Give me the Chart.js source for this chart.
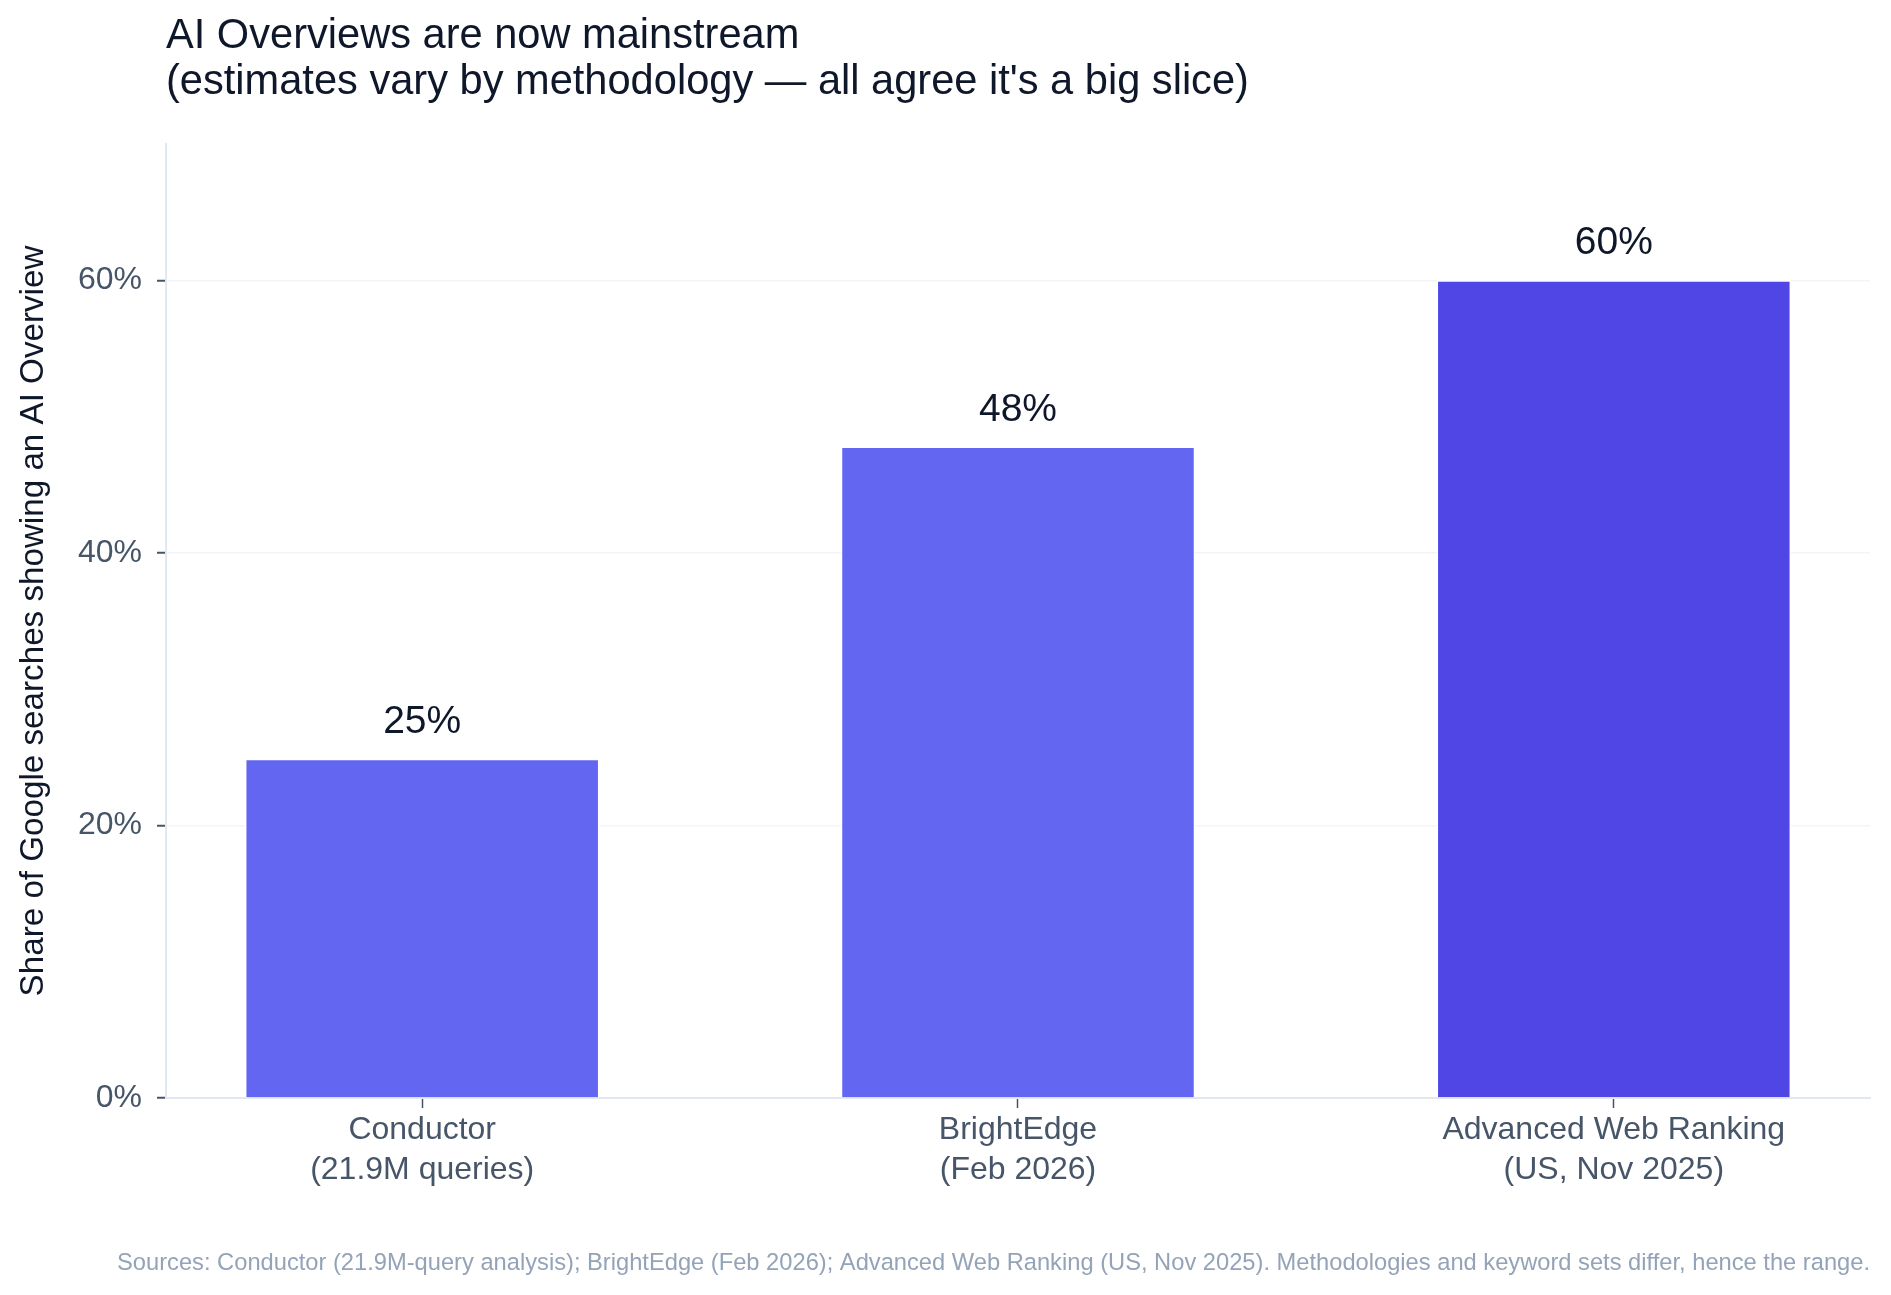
<!DOCTYPE html>
<html>
<head>
<meta charset="utf-8">
<script src="https://cdn.jsdelivr.net/npm/chart.js@4.4.0/dist/chart.umd.min.js"></script>
<style>
  html, body { margin: 0; padding: 0; background: #fff; }
  #wrap { width: 1891px; height: 1295px; }
</style>
</head>
<body>
<div id="wrap"><canvas id="bar" width="1891" height="1295"></canvas></div>
<script>
// chart data
const categories = [
  ['Conductor', '(21.9M queries)'],
  ['BrightEdge', '(Feb 2026)'],
  ['Advanced Web Ranking', '(US, Nov 2025)']
];
const shares = [24.9, 47.8, 60];
const yTicks = [0, 20, 40, 60];
const yTickLabels = ['0%', '20%', '40%', '60%'];

const titleLines = [
  'AI Overviews are now mainstream',
  "(estimates vary by methodology \u2014 all agree it's a big slice)"
];
const yTitle = 'Share of Google searches showing an AI Overview';
const footnote = 'Sources: Conductor (21.9M-query analysis); BrightEdge (Feb 2026); Advanced Web Ranking (US, Nov 2025). Methodologies and keyword sets differ, hence the range.';

const FONT = '"Liberation Sans", Arial, Helvetica, sans-serif';
Chart.defaults.font.family = FONT;

// title + footnote, drawn on the canvas
const headerFooter = {
  id: 'headerFooter',
  afterDraw(chart) {
    const ctx = chart.ctx;
    const area = chart.chartArea;
    ctx.save();
    ctx.textBaseline = 'alphabetic';
    ctx.textAlign = 'left';
    ctx.fillStyle = '#0f172a';
    ctx.font = '41.6px ' + FONT;
    titleLines.forEach((t, i) => ctx.fillText(t, area.left, 48 + i * 46));
    ctx.textAlign = 'right';
    ctx.fillStyle = '#94a3b8';
    ctx.font = '23.7px ' + FONT;
    ctx.fillText(footnote, area.right, chart.height - 25);
    ctx.restore();
  }
};

// value labels above the bars
const valueLabels = {
  id: 'valueLabels',
  afterDatasetsDraw(chart) {
    const ctx = chart.ctx;
    const meta = chart.getDatasetMeta(0);
    ctx.save();
    ctx.textAlign = 'center';
    ctx.textBaseline = 'alphabetic';
    ctx.fillStyle = '#0f172a';
    ctx.font = '39px ' + FONT;
    meta.data.forEach((bar, i) => {
      ctx.fillText(Math.round(shares[i]) + '%', bar.x, bar.y - 26);
    });
    ctx.restore();
  }
};

const data = {
  datasets: [{
    data: shares.map((v, i) => ({ x: i, y: v })),
    backgroundColor: ['#6366F1', '#6366F1', '#4F46E5'],
    borderColor: '#ffffff',
    borderWidth: 1.5,
    categoryPercentage: 1,
    barPercentage: 0.595
  }]
};

const bar = {
  type: 'bar',
  data: data,
  options: {
    responsive: false,
    animation: false,
    layout: {
      padding: { top: 144, right: 21, bottom: 97, left: 0 }
    },
    plugins: {
      legend: { display: false },
      tooltip: { enabled: false }
    },
    scales: {
      x: {
        type: 'linear',
        offset: false,
        min: -0.43,
        max: 2.43,
        afterBuildTicks: (s) => { s.ticks = categories.map((c, i) => ({ value: i })); },
        afterFit: (s) => { s.height = 100; },
        ticks: {
          callback: (v) => categories[v],
          color: '#475569',
          font: { size: 32, lineHeight: 1.25 },
          padding: 2,
          autoSkip: false,
          maxRotation: 0
        },
        grid: {
          offset: false,
          drawOnChartArea: false,
          tickLength: 10,
          tickColor: '#475569',
          tickWidth: 1.5
        },
        border: { color: '#e2e8f0', width: 2 }
      },
      y: {
        min: 0,
        max: 70,
        afterBuildTicks: (s) => { s.ticks = yTicks.map(v => ({ value: v })); },
        afterFit: (s) => { s.width = 166; },
        ticks: {
          callback: (v) => yTickLabels[yTicks.indexOf(v)],
          color: '#475569',
          font: { size: 32 },
          padding: 15
        },
        grid: {
          color: '#f1f5f9',
          lineWidth: 1.5,
          tickLength: 9,
          tickColor: '#475569',
          tickWidth: 2
        },
        border: { color: '#e2e8f0', width: 2 },
        title: {
          display: true,
          text: yTitle,
          color: '#0f172a',
          font: { size: 33.2 },
          padding: { top: 14, bottom: 0 }
        }
      }
    }
  },
  plugins: [headerFooter, valueLabels]
};

const chart = new Chart(document.getElementById('bar'), bar);
</script>
</body>
</html>
